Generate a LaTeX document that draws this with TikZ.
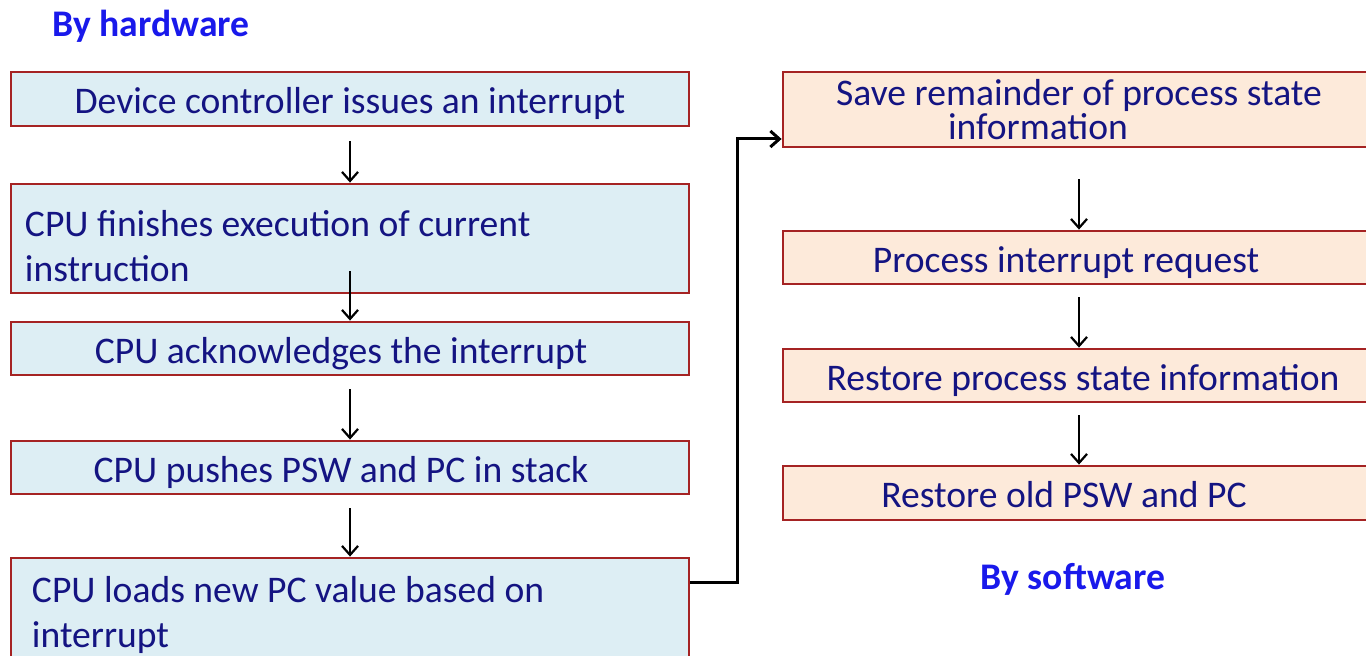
\documentclass[tikz,border=0pt]{standalone}
\usepackage{fontspec}
\setmainfont{Carlito}
\usetikzlibrary{arrows.meta,positioning}
\definecolor{navy}{RGB}{20,20,130}
\definecolor{titleblue}{RGB}{25,25,235}
\definecolor{boxred}{RGB}{165,35,35}
\definecolor{hwfill}{RGB}{221,238,244}
\definecolor{swfill}{RGB}{253,234,218}
\tikzset{
  hw/.style={
    shape = rectangle,
    draw = boxred,
    line width = 1.4pt,
    fill = hwfill,
    text = navy,
    minimum width = 339pt,
    inner xsep = 7pt,
    font = \fontsize{18.8}{22.5}\selectfont
  },
  sw/.style={
    hw,
    fill = swfill,
    minimum width = 296pt
  },
  oneline/.style={
    text height = 16.5pt,
    text depth = 1.5pt
  },
  flow/.style={
    line width = 1.1pt,
    -{Straight Barb[length=4.5pt,width=8pt]}
  },
  heading/.style={
    text = titleblue,
    font = \fontsize{18.8}{22.5}\selectfont\bfseries
  }
}

\begin{document}
\begin{tikzpicture}[x=0.5pt,y=-0.5pt]
\useasboundingbox (0,0) rectangle (1366,656);
\fill[white] (0,0) rectangle (1366,656);
\clip (0,0) rectangle (1366,656);

\node[heading] (hwlbl) at (151,26) {By hardware};
\node[heading] (swlbl) at (1073,579) {By software};

\node[hw, oneline, minimum height=27pt] (dev) at (350,99) {Device controller issues an interrupt};
\node[hw, minimum height=54.5pt, text width=325pt, align=flush left] (fin) at (350,238.5)
  {\rule{0pt}{21pt}CPU finishes execution of current\\ instruction};
\node[hw, oneline, minimum height=26.5pt] (ack) at (350,348.5) {CPU acknowledges the interrupt\hspace*{9pt}};
\node[hw, oneline, minimum height=26.5pt] (push) at (350,467.5) {CPU pushes PSW and PC in stack\hspace*{9pt}};
\node[hw, minimum height=55pt, inner xsep=10.5pt, text width=318pt, align=flush left] (load) at (350,613)
  {\rule{0pt}{15pt}CPU loads new PC value based on\\ interrupt};

\node[sw, minimum height=37.5pt, align=center, font=\fontsize{18.8}{16}\selectfont] (save) at (1079,109.5)
  {Save remainder of process state\\ information\hspace*{41pt}};
\node[sw, oneline, minimum height=26.5pt] (proc) at (1079,257.5) {Process interrupt request\hspace*{13pt}};
\node[sw, oneline, minimum height=26.5pt] (rest) at (1079,375.5) {\hspace*{4pt}Restore process state information};
\node[sw, oneline, minimum height=27pt] (old) at (1079,493) {Restore old PSW and PC\hspace*{15pt}};

\foreach \a/\b/\s in {dev/fin/-7pt, fin/ack/11.5pt, ack/push/-6.5pt, push/load/-6.5pt,
                      save/proc/-15.5pt, proc/rest/-6pt, rest/old/-6pt}{
  \draw[flow] ([yshift=\s]\a.south) -- (\b.north); }

\coordinate (bend) at (737,139);
\draw[flow, line width=1.5pt] ([yshift=15pt]load.east) -| (bend) -- ([yshift=-14.75pt]save.west);
\end{tikzpicture}
\end{document}
